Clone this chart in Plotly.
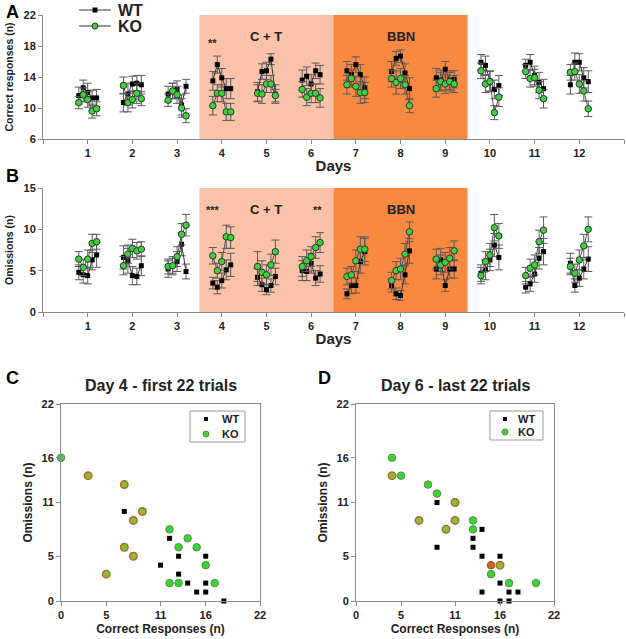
import plotly.graph_objects as go

FONT = "Liberation Sans, Arial, sans-serif"

days = list(range(1, 13))
offsets = [-0.2, -0.1, 0.0, 0.1, 0.2]   # 5 blocks within each day

# Panel A - correct responses (mean per block)
wt_correct = [
    [11.6, 12.6, 12.0, 11.3, 11.3],
    [10.7, 11.8, 13.1, 13.2, 13.0],
    [11.8, 12.2, 12.4, 10.4, 12.8],
    [13.5, 15.6, 13.9, 12.5, 12.5],
    [12.1, 14.7, 14.8, 16.3, 11.8],
    [13.6, 14.1, 13.1, 14.8, 14.3],
    [14.8, 14.3, 15.6, 14.3, 12.6],
    [14.7, 16.4, 16.7, 14.5, 12.5],
    [13.9, 13.6, 15.0, 13.6, 13.7],
    [15.9, 15.5, 13.5, 12.4, 12.9],
    [15.5, 15.9, 14.2, 13.3, 12.5],
    [13.0, 15.9, 15.9, 13.9, 13.4],
]
ko_correct = [
    [10.7, 11.7, 11.1, 9.6, 9.9],
    [12.9, 10.7, 11.1, 11.9, 11.2],
    [11.0, 12.2, 11.7, 10.0, 9.0],
    [10.3, 11.9, 11.9, 9.5, 9.5],
    [11.9, 11.8, 13.1, 13.1, 11.6],
    [12.4, 11.4, 11.9, 11.9, 11.3],
    [13.0, 13.8, 12.8, 12.0, 12.0],
    [13.8, 13.3, 13.8, 13.0, 10.3],
    [12.5, 13.4, 13.1, 13.4, 13.1],
    [14.8, 13.1, 13.4, 9.4, 11.4],
    [14.7, 13.8, 13.9, 12.3, 11.2],
    [14.6, 14.7, 13.1, 12.2, 9.9],
]
wt_correct_err = [
    [1.1, 1.0, 1.2, 1.0, 1.1],
    [1.2, 1.4, 1.0, 1.0, 1.2],
    [1.0, 1.0, 1.1, 1.3, 0.9],
    [1.2, 1.1, 1.2, 1.3, 1.3],
    [1.2, 1.0, 1.1, 0.7, 1.2],
    [1.3, 1.2, 1.2, 1.0, 1.2],
    [1.2, 1.3, 1.0, 1.3, 1.4],
    [1.3, 0.9, 0.8, 1.2, 1.4],
    [1.2, 1.3, 1.0, 1.2, 1.1],
    [1.0, 1.2, 1.3, 1.2, 1.3],
    [0.8, 1.0, 1.2, 1.3, 1.2],
    [1.2, 1.2, 1.1, 1.3, 1.4],
]
ko_correct_err = [
    [0.8, 0.9, 1.0, 0.9, 0.9],
    [1.1, 1.2, 1.1, 1.3, 0.9],
    [0.8, 1.0, 1.1, 1.2, 0.9],
    [1.2, 1.1, 1.1, 1.1, 1.1],
    [1.1, 1.2, 1.1, 1.1, 0.8],
    [1.0, 1.1, 1.2, 1.2, 1.2],
    [1.2, 1.1, 1.3, 1.4, 1.3],
    [1.1, 1.5, 1.3, 1.2, 0.9],
    [1.1, 1.2, 1.2, 1.2, 1.1],
    [1.0, 1.1, 1.3, 0.9, 1.2],
    [0.9, 1.1, 1.1, 1.1, 1.2],
    [1.0, 1.1, 1.2, 1.3, 1.0],
]

# Panel B - omissions (mean per block)
wt_omit = [
    [4.8, 4.5, 4.4, 6.3, 6.9],
    [6.6, 6.2, 4.4, 4.3, 5.6],
    [5.2, 5.6, 6.1, 8.2, 4.9],
    [3.5, 3.0, 3.8, 5.1, 5.7],
    [4.2, 3.3, 2.7, 3.2, 4.3],
    [5.0, 4.9, 5.9, 4.1, 4.6],
    [2.2, 3.2, 3.2, 6.1, 7.3],
    [3.2, 2.2, 2.0, 4.5, 7.4],
    [5.2, 6.3, 3.2, 5.2, 5.2],
    [4.7, 5.1, 6.3, 8.1, 6.6],
    [3.0, 3.4, 4.6, 6.5, 7.3],
    [5.9, 3.2, 4.1, 5.2, 6.4],
]
ko_omit = [
    [6.4, 5.4, 6.4, 8.3, 8.5],
    [5.6, 7.0, 7.7, 7.4, 7.6],
    [5.5, 5.6, 6.7, 9.4, 10.5],
    [6.8, 5.0, 6.1, 9.1, 9.0],
    [5.5, 4.8, 4.5, 5.7, 7.3],
    [5.5, 6.2, 6.7, 7.8, 8.4],
    [4.3, 4.5, 6.2, 7.6, 7.6],
    [3.8, 5.0, 5.2, 7.0, 9.7],
    [6.4, 5.7, 6.0, 6.5, 7.4],
    [4.4, 6.1, 6.9, 10.2, 9.2],
    [4.4, 5.3, 5.7, 8.5, 9.9],
    [5.5, 4.7, 6.3, 8.0, 10.0],
]
wt_omit_err = [
    [0.9, 1.0, 1.0, 1.2, 1.5],
    [1.4, 1.5, 1.1, 1.0, 1.2],
    [1.0, 1.1, 1.2, 1.4, 0.9],
    [0.7, 0.8, 0.9, 1.2, 1.4],
    [1.0, 0.8, 0.6, 0.8, 1.0],
    [1.2, 1.1, 1.2, 0.9, 1.0],
    [0.6, 1.0, 0.9, 1.4, 1.6],
    [0.8, 0.7, 0.6, 1.1, 1.5],
    [1.2, 1.4, 0.7, 1.1, 1.1],
    [1.0, 1.2, 1.3, 1.4, 1.5],
    [0.7, 0.9, 1.0, 1.3, 1.6],
    [1.2, 0.8, 1.0, 1.2, 1.5],
]
ko_omit_err = [
    [0.9, 1.0, 1.1, 1.1, 0.9],
    [1.1, 1.1, 1.1, 1.0, 0.9],
    [0.9, 0.9, 1.2, 1.3, 1.3],
    [1.0, 0.9, 1.1, 1.4, 1.3],
    [1.8, 1.4, 1.2, 1.3, 1.4],
    [1.2, 1.3, 1.2, 1.3, 1.2],
    [1.0, 1.0, 1.3, 1.5, 1.5],
    [1.0, 1.1, 1.3, 1.3, 1.2],
    [1.2, 1.2, 1.2, 1.3, 1.2],
    [1.0, 1.2, 1.4, 1.6, 1.5],
    [1.0, 1.1, 1.2, 1.4, 1.6],
    [1.0, 1.1, 1.2, 1.4, 1.5],
]

# Panel C - day 4, first 22 trials
c_wt_x = [7, 12, 13, 11, 13, 14, 16, 15, 16, 16, 18]
c_wt_y = [10, 7, 5, 4, 3, 2, 5, 1, 1, 2, 0]
c_ko_x = [0, 12, 14, 13, 15, 16, 12, 13, 17]
c_ko_y = [16, 8, 7, 6, 6, 4, 2, 2, 2]
c_ko_shared_x = [3, 7, 9, 8, 7, 8, 5]      # KO points drawn with orange rim
c_ko_shared_y = [14, 13, 10, 9, 6, 5, 3]

# Panel D - day 6, last 22 trials
d_wt_x = [9, 9, 14, 13, 13, 14, 16, 16, 14, 17, 18, 16, 17]
d_wt_y = [11, 6, 8, 7, 6, 5, 5, 2, 1, 1, 1, 0, 0]
d_ko_x = [4, 5, 8, 9, 13, 13, 15, 17, 20]
d_ko_y = [16, 14, 13, 12, 9, 8, 3, 2, 2]
d_ko_shared_x = [4, 11, 7, 11, 10, 16]
d_ko_shared_y = [14, 11, 9, 9, 8, 4]
d_ko_full_x = [15]                          # fully orange point
d_ko_full_y = [4]


def flatten(rows):
    xs, ys = [], []
    for d, row in zip(days, rows):
        for off, v in zip(offsets, row):
            xs.append(d + off)
            ys.append(v)
        xs.append(None)
        ys.append(None)
    return xs, ys


def flat_err(rows):
    out = []
    for row in rows:
        out.extend(row)
        out.append(0)
    return out


GREEN = "#3CD23C"
ORANGE_RIM = "#C4602A"
ERR = "#5a5a5a"

fig = go.Figure()

# time course panels
for (wt, ko, wte, koe, xa, ya) in [
    (wt_correct, ko_correct, wt_correct_err, ko_correct_err, "x", "y"),
    (wt_omit, ko_omit, wt_omit_err, ko_omit_err, "x2", "y2"),
]:
    x, y = flatten(wt)
    fig.add_trace(go.Scatter(
        x=x, y=y, xaxis=xa, yaxis=ya, name="WT", showlegend=False,
        mode="lines+markers", connectgaps=False,
        line=dict(color="#333333", width=1),
        marker=dict(symbol="square", size=5, color="black"),
        error_y=dict(type="data", array=flat_err(wte), color=ERR, thickness=1, width=4),
    ))
    x, y = flatten(ko)
    fig.add_trace(go.Scatter(
        x=x, y=y, xaxis=xa, yaxis=ya, name="KO", showlegend=False,
        mode="lines+markers", connectgaps=False,
        line=dict(color="#555555", width=1),
        marker=dict(symbol="circle", size=6.5, color=GREEN, line=dict(color="#333333", width=1)),
        error_y=dict(type="data", array=flat_err(koe), color=ERR, thickness=1, width=4),
    ))

# scatter panels
for (wx, wy, kx, ky, sx, sy, xa, ya) in [
    (c_wt_x, c_wt_y, c_ko_x, c_ko_y, c_ko_shared_x, c_ko_shared_y, "x3", "y3"),
    (d_wt_x, d_wt_y, d_ko_x, d_ko_y, d_ko_shared_x, d_ko_shared_y, "x4", "y4"),
]:
    fig.add_trace(go.Scatter(
        x=wx, y=wy, xaxis=xa, yaxis=ya, mode="markers", name="WT", showlegend=False,
        marker=dict(symbol="square", size=5, color="black"), cliponaxis=False,
    ))
    fig.add_trace(go.Scatter(
        x=kx, y=ky, xaxis=xa, yaxis=ya, mode="markers", name="KO", showlegend=False,
        marker=dict(symbol="circle", size=7.5, color=GREEN, line=dict(color="#5a8a3a", width=1)),
        cliponaxis=False,
    ))
    fig.add_trace(go.Scatter(
        x=sx, y=sy, xaxis=xa, yaxis=ya, mode="markers", showlegend=False,
        marker=dict(symbol="circle", size=7.5, color="#7CC43A", line=dict(color=ORANGE_RIM, width=1.5)),
        cliponaxis=False,
    ))
fig.add_trace(go.Scatter(
    x=d_ko_full_x, y=d_ko_full_y, xaxis="x4", yaxis="y4", mode="markers", showlegend=False,
    marker=dict(symbol="circle", size=7.5, color="#C8642E", line=dict(color="#A04A20", width=1)),
))

W, H = 626, 639


def px(v):
    return v / W


def py(v):
    return 1 - v / H


tickfont = dict(family=FONT, size=11, color="#222", weight="bold")
axis_common = dict(showline=True, linecolor="#8a8a8a", linewidth=1, ticks="outside",
                   ticklen=4, tickcolor="#8a8a8a", showgrid=False, zeroline=False,
                   tickfont=tickfont, automargin=False)
title_font = dict(family=FONT, size=15, color="#222", weight="bold")
ytitle_font = dict(family=FONT, size=10.5, color="#222", weight="bold")
stitle_font = dict(family=FONT, size=12, color="#222", weight="bold")

tick_days = [0] + days + [13]
tick_text = [""] + [str(d) for d in days] + [""]

fig.update_layout(
    width=W, height=H, margin=dict(l=0, r=0, t=0, b=0),
    plot_bgcolor="white", paper_bgcolor="white", showlegend=False,
    font=dict(family=FONT, color="#222"),
    xaxis=dict(domain=[px(43), px(624)], range=[0, 13], tickvals=tick_days, ticktext=tick_text,
               anchor="y", title=dict(text="Days", font=title_font, standoff=2), **axis_common),
    yaxis=dict(domain=[py(139), py(15)], range=[6, 22], tickvals=[6, 10, 14, 18, 22], anchor="x",
               title=dict(text="Correct responses (n)", font=ytitle_font, standoff=7), **axis_common),
    xaxis2=dict(domain=[px(43), px(624)], range=[0, 13], tickvals=tick_days, ticktext=tick_text,
                anchor="y2", title=dict(text="Days", font=title_font, standoff=2), **axis_common),
    yaxis2=dict(domain=[py(312), py(188)], range=[0, 15], tickvals=[0, 5, 10, 15], anchor="x2",
                title=dict(text="Omissions (n)", font=ytitle_font, standoff=7), **axis_common),
    xaxis3=dict(domain=[px(61), px(260)], range=[0, 22], tickvals=[0, 5, 11, 16, 22], anchor="y3",
                mirror=True, title=dict(text="Correct Responses (n)", font=stitle_font, standoff=4),
                **axis_common),
    yaxis3=dict(domain=[py(601), py(404)], range=[0, 22], tickvals=[0, 5, 11, 16, 22], anchor="x3",
                mirror=True, title=dict(text="Omissions (n)", font=stitle_font, standoff=6),
                **axis_common),
    xaxis4=dict(domain=[px(356), px(554)], range=[0, 22], tickvals=[0, 5, 11, 16, 22], anchor="y4",
                mirror=True, title=dict(text="Correct Responses (n)", font=stitle_font, standoff=4),
                **axis_common),
    yaxis4=dict(domain=[py(601), py(404)], range=[0, 22], tickvals=[0, 5, 11, 16, 22], anchor="x4",
                mirror=True, title=dict(text="Omissions (n)", font=stitle_font, standoff=6),
                **axis_common),
)

# shaded treatment periods
for xr, yr in [("x", "y"), ("x2", "y2")]:
    fig.add_shape(type="rect", xref=xr, yref=yr + " domain", x0=3.5, x1=6.5, y0=0, y1=1,
                  fillcolor="#FAC2A8", line=dict(width=0), layer="below")
    fig.add_shape(type="rect", xref=xr, yref=yr + " domain", x0=6.5, x1=9.5, y0=0, y1=1,
                  fillcolor="#F98841", line=dict(width=0), layer="below")
    for label, xc in [("C + T", 5), ("BBN", 8)]:
        fig.add_annotation(x=xc, y=0.9, xref=xr, yref=yr + " domain", text=label, showarrow=False,
                           font=dict(family=FONT, size=13, color="#222", weight="bold"))

# significance marks
for xv, yv, txt, xr, yr in [(3.8, 18.4, "**", "x", "y"), (3.8, 12.3, "***", "x2", "y2"),
                            (6.15, 12.3, "**", "x2", "y2")]:
    fig.add_annotation(x=xv, y=yv, xref=xr, yref=yr, text=txt, showarrow=False,
                       font=dict(family=FONT, size=11, color="#222", weight="bold"))


# hand-made legends (pixel positions in the figure)
def square(cx, cy, s):
    fig.add_shape(type="rect", xref="paper", yref="paper", x0=px(cx - s / 2), x1=px(cx + s / 2),
                  y0=py(cy + s / 2), y1=py(cy - s / 2), fillcolor="black", line=dict(width=0))


def circle(cx, cy, s, edge):
    fig.add_shape(type="circle", xref="paper", yref="paper", x0=px(cx - s / 2), x1=px(cx + s / 2),
                  y0=py(cy + s / 2), y1=py(cy - s / 2), fillcolor=GREEN,
                  line=dict(color=edge, width=1))


def label(txt, x, y, size):
    fig.add_annotation(x=px(x), y=py(y), xref="paper", yref="paper", text=txt, showarrow=False,
                       xanchor="left", yanchor="middle",
                       font=dict(family=FONT, size=size, color="#222", weight="bold"))


# panel A legend: line + marker
for cy, name in [(10, "WT"), (26, "KO")]:
    fig.add_shape(type="line", xref="paper", yref="paper", x0=px(79), x1=px(111),
                  y0=py(cy), y1=py(cy), line=dict(color="#333333", width=1))
    if name == "WT":
        square(95, cy, 5)
    else:
        circle(95, cy, 6, "#333333")
    label(name, 116, cy, 16)

# panel C / D legend boxes
for x0, x1, y0, y1, mx, tx, r1, r2 in [(190, 245, 411, 442, 206, 220, 419, 434),
                                         (490, 543, 411, 440, 505, 516, 419, 432)]:
    fig.add_shape(type="rect", xref="paper", yref="paper", x0=px(x0), x1=px(x1),
                  y0=py(y1), y1=py(y0), fillcolor="white", line=dict(color="#999999", width=1))
    square(mx, r1, 4)
    circle(mx, r2, 6, "#5a8a3a")
    label("WT", tx, r1, 11)
    label("KO", tx, r2, 11)

# panel letters and titles
for txt, x, y in [("A", 4, 0), ("B", 4, 164), ("C", 4, 366), ("D", 316, 366)]:
    fig.add_annotation(x=px(x), y=py(y), xref="paper", yref="paper", text=txt, showarrow=False,
                       xanchor="left", yanchor="top",
                       font=dict(family=FONT, size=18, color="black", weight="bold"))
for txt, x in [("Day 4 - first 22 trials", 161), ("Day 6 - last 22 trials", 456)]:
    fig.add_annotation(x=px(x), y=py(385), xref="paper", yref="paper", text=txt, showarrow=False,
                       xanchor="center", yanchor="middle",
                       font=dict(family=FONT, size=16, color="#222", weight="bold"))

# drop the default page margin so the figure sits at the window's corner
fig.write_html("out.html", post_script="document.body.style.margin='0';",
               config={"displayModeBar": False})
